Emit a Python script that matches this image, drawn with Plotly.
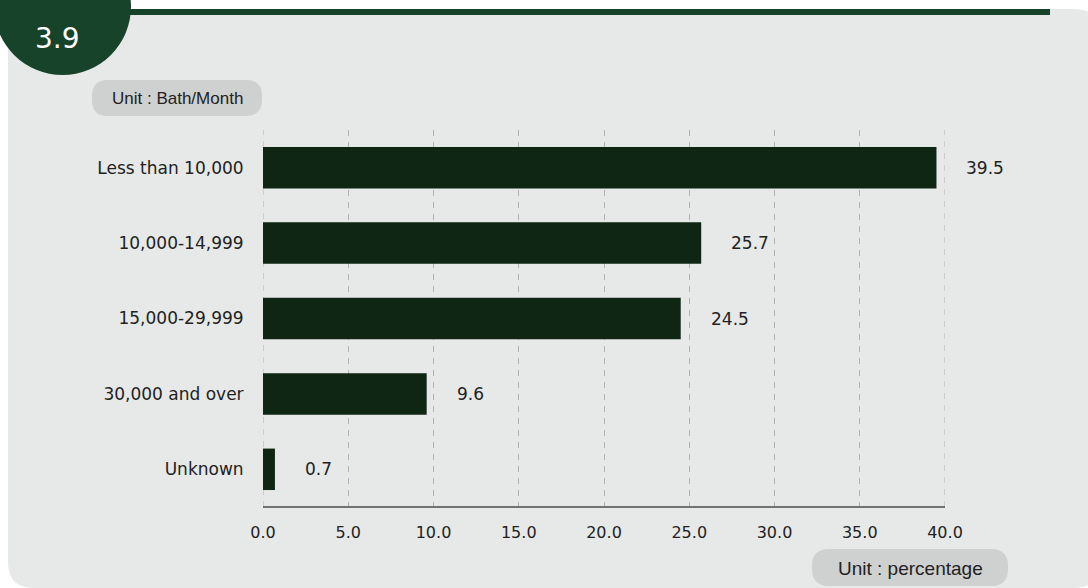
import plotly.graph_objects as go

categories = ["Less than 10,000", "10,000-14,999", "15,000-29,999", "30,000 and over", "Unknown"]
values = [39.5, 25.7, 24.5, 9.6, 0.7]
x_ticks = [0, 5, 10, 15, 20, 25, 30, 35, 40]
x_tick_labels = ["0.0", "5.0", "10.0", "15.0", "20.0", "25.0", "30.0", "35.0", "40.0"]

W, H = 1088, 588
L, R, T, B = 263, 945, 130, 507  # plot area in pixels


def px(x):
    return (x - L) / (R - L)


def py(y):
    return (B - y) / (B - T)


def rrect(x0, y0, x1, y1, r):
    p = [
        f"M {px(x0 + r)},{py(y0)}",
        f"L {px(x1 - r)},{py(y0)}",
        f"Q {px(x1)},{py(y0)} {px(x1)},{py(y0 + r)}",
        f"L {px(x1)},{py(y1 - r)}",
        f"Q {px(x1)},{py(y1)} {px(x1 - r)},{py(y1)}",
        f"L {px(x0 + r)},{py(y1)}",
        f"Q {px(x0)},{py(y1)} {px(x0)},{py(y1 - r)}",
        f"L {px(x0)},{py(y0 + r)}",
        f"Q {px(x0)},{py(y0)} {px(x0 + r)},{py(y0)}",
        "Z",
    ]
    return " ".join(p)


BAR_COLOR = "#0f2615"
GREEN = "#17432a"
TEXT = "#222222"
FONT = "DejaVu Sans"
GRID = "#b2b2b2"

fig = go.Figure()
fig.add_trace(go.Bar(
    x=values, y=categories, orientation="h",
    marker=dict(color=BAR_COLOR, line=dict(width=0)),
    width=0.55, hoverinfo="skip",
))

shapes = [
    # background panel
    dict(type="path", xref="paper", yref="paper", path=rrect(8, 9, 1100, 588, 26),
         fillcolor="#e6e9e8", line=dict(width=0), layer="below"),
    # top green band
    dict(type="rect", xref="paper", yref="paper", x0=px(120), x1=px(1050), y0=py(9), y1=py(15),
         fillcolor=GREEN, line=dict(width=0), layer="below"),
    # circle badge
    dict(type="circle", xref="paper", yref="paper", x0=px(-6), x1=px(131), y0=py(-62), y1=py(75),
         fillcolor=GREEN, line=dict(width=0), layer="below"),
    # unit boxes
    dict(type="path", xref="paper", yref="paper", path=rrect(92, 80, 262, 116, 16),
         fillcolor="#cfd0d0", line=dict(width=0), layer="below"),
    dict(type="path", xref="paper", yref="paper", path=rrect(812, 549, 1008, 586, 17),
         fillcolor="#cfd0d0", line=dict(width=0), layer="below"),
]
# dashed gridlines at the range edges (plotly skips them)
for xv in (x_ticks[0], x_ticks[-1]):
    shapes.append(dict(type="line", xref="x", yref="paper", x0=xv, x1=xv, y0=0, y1=1,
                       line=dict(color=GRID, width=1, dash="6px,6px"), layer="below"))
# x axis line
shapes.append(dict(type="line", xref="paper", yref="paper", x0=0, x1=1, y0=0, y1=0,
                   line=dict(color="#4a4a4a", width=1.5)))

annotations = [
    dict(text="3.9", xref="paper", yref="paper", x=px(57), y=py(39), showarrow=False,
         font=dict(family=FONT, size=28, color="white"), xanchor="center", yanchor="middle"),
    dict(text="Unit : Bath/Month", xref="paper", yref="paper", x=px(177), y=py(98), showarrow=False,
         font=dict(family="Liberation Sans", size=17, color=TEXT), xanchor="center", yanchor="middle"),
    dict(text="Unit : percentage", xref="paper", yref="paper", x=px(910), y=py(568), showarrow=False,
         font=dict(family="Liberation Sans", size=19, color=TEXT), xanchor="center", yanchor="middle"),
]
for c, v in zip(categories, values):
    annotations.append(dict(text=f"{v:.1f}", x=v, y=c, xref="x", yref="y", showarrow=False,
                            xanchor="left", yanchor="middle", xshift=28,
                            font=dict(family=FONT, size=17, color=TEXT)))

fig.update_layout(
    width=W, height=H,
    margin=dict(l=L, r=W - R, t=T, b=H - B, pad=0),
    paper_bgcolor="white", plot_bgcolor="rgba(0,0,0,0)",
    showlegend=False,
    shapes=shapes, annotations=annotations,
    bargap=0.45,
    font=dict(family=FONT, size=16, color=TEXT),
)
fig.update_xaxes(
    range=[x_ticks[0], x_ticks[-1]], tickvals=x_ticks, ticktext=x_tick_labels,
    showgrid=True, gridcolor=GRID, griddash="6px,6px", gridwidth=1,
    zeroline=False, showline=False,
    ticks="outside", ticklen=11, tickcolor="rgba(0,0,0,0)",
    tickfont=dict(family=FONT, size=16, color=TEXT), fixedrange=True,
)
fig.update_yaxes(
    categoryorder="array", categoryarray=categories[::-1],
    range=[-0.5, 4.5],
    showgrid=False, zeroline=False, showline=False,
    ticks="outside", ticklen=15, tickcolor="rgba(0,0,0,0)",
    tickfont=dict(family=FONT, size=17, color=TEXT), fixedrange=True,
)

fig.write_html("out.html", config={"displayModeBar": False},
               post_script="document.body.style.margin='0';document.body.style.overflow='hidden';")
